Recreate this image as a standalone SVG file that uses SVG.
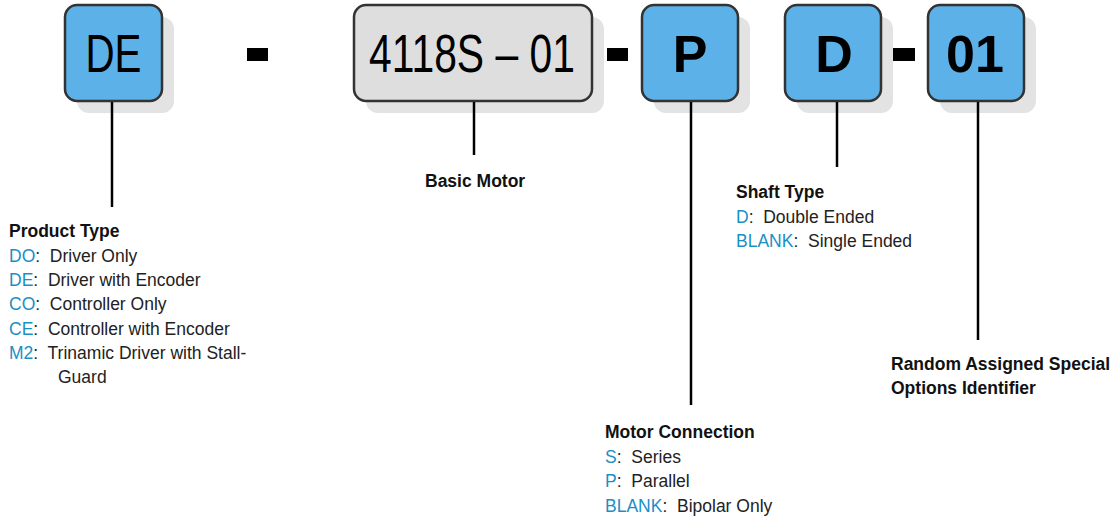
<svg xmlns="http://www.w3.org/2000/svg" width="1117" height="520" viewBox="0 0 1117 520">
<style>
.sh{fill:#e3e3e3}
.bx{stroke:#333;stroke-width:2.5}
.blue{fill:#5bb1e8}
.gray{fill:#dedede}
.big{font-family:"Liberation Sans Narrow","Liberation Sans",Arial,sans-serif;font-size:53px;fill:#000}
.bigb{font-family:"Liberation Sans",Arial,sans-serif;font-weight:bold;font-size:52px;fill:#000}
.dash{fill:#000}
.ln{stroke:#000;stroke-width:2.5;fill:none}
.lb{font-family:"Liberation Sans",Arial,sans-serif;font-size:17.5px;fill:#222;white-space:pre}
.h{font-weight:bold;fill:#111}
.k{fill:#1a8fc6}
</style>
<rect width="1117" height="520" fill="#fff"/>
<g id="node-DE">
<rect class="sh" x="77" y="17" width="97" height="96" rx="12"/>
<rect class="bx blue" x="65" y="5" width="97" height="96" rx="12"/>
<text class="big" x="113.5" y="72" text-anchor="middle" textLength="56" lengthAdjust="spacingAndGlyphs">DE</text>
</g>
<g id="sep1"><rect class="dash" x="247" y="48" width="21" height="13"/></g>
<g id="node-motor">
<rect class="sh" x="366" y="17" width="238" height="96" rx="12"/>
<rect class="bx gray" x="354" y="5" width="238" height="96" rx="12"/>
<text class="big" x="369" y="72" textLength="206" lengthAdjust="spacingAndGlyphs">4118S – 01</text>
</g>
<g id="sep2"><rect class="dash" x="607" y="48" width="21" height="13"/></g>
<g id="node-P">
<rect class="sh" x="654" y="17" width="96" height="96" rx="12"/>
<rect class="bx blue" x="642" y="5" width="96" height="96" rx="12"/>
<text class="bigb" x="690" y="72" text-anchor="middle">P</text>
</g>
<g id="node-D">
<rect class="sh" x="797" y="17" width="96" height="96" rx="12"/>
<rect class="bx blue" x="785" y="5" width="96" height="96" rx="12"/>
<text class="bigb" x="834" y="72" text-anchor="middle">D</text>
</g>
<g id="sep3"><rect class="dash" x="893" y="48" width="22" height="13"/></g>
<g id="node-01">
<rect class="sh" x="940" y="17" width="96" height="96" rx="12"/>
<rect class="bx blue" x="928" y="5" width="96" height="96" rx="12"/>
<text class="bigb" x="975" y="72" text-anchor="middle">01</text>
</g>
<g id="connectors">
<line class="ln" x1="112" y1="102" x2="112" y2="207"/>
<line class="ln" x1="474" y1="102" x2="474" y2="155"/>
<line class="ln" x1="691" y1="102" x2="691" y2="405"/>
<line class="ln" x1="837" y1="102" x2="837" y2="167"/>
<line class="ln" x1="978" y1="102" x2="978" y2="340"/>
</g>
<g id="label-product">
<text class="lb h" x="9" y="237">Product Type</text>
<text class="lb" x="9" y="262" xml:space="preserve"><tspan class="k">DO</tspan>:  Driver Only</text>
<text class="lb" x="9" y="286" xml:space="preserve"><tspan class="k">DE</tspan>:  Driver with Encoder</text>
<text class="lb" x="9" y="310" xml:space="preserve"><tspan class="k">CO</tspan>:  Controller Only</text>
<text class="lb" x="9" y="335" xml:space="preserve"><tspan class="k">CE</tspan>:  Controller with Encoder</text>
<text class="lb" x="9" y="359" xml:space="preserve"><tspan class="k">M2</tspan>:  Trinamic Driver with Stall-</text>
<text class="lb" x="58" y="383">Guard</text>
</g>
<g id="label-basic">
<text class="lb h" x="425" y="187">Basic Motor</text>
</g>
<g id="label-shaft">
<text class="lb h" x="736" y="198">Shaft Type</text>
<text class="lb" x="736" y="223" xml:space="preserve"><tspan class="k">D</tspan>:  Double Ended</text>
<text class="lb" x="736" y="247" xml:space="preserve"><tspan class="k">BLANK</tspan>:  Single Ended</text>
</g>
<g id="label-special">
<text class="lb h" x="891" y="370">Random Assigned Special</text>
<text class="lb h" x="891" y="394">Options Identifier</text>
</g>
<g id="label-connection">
<text class="lb h" x="605" y="438">Motor Connection</text>
<text class="lb" x="605" y="463" xml:space="preserve"><tspan class="k">S</tspan>:  Series</text>
<text class="lb" x="605" y="487" xml:space="preserve"><tspan class="k">P</tspan>:  Parallel</text>
<text class="lb" x="605" y="512" xml:space="preserve"><tspan class="k">BLANK</tspan>:  Bipolar Only</text>
</g>
</svg>
